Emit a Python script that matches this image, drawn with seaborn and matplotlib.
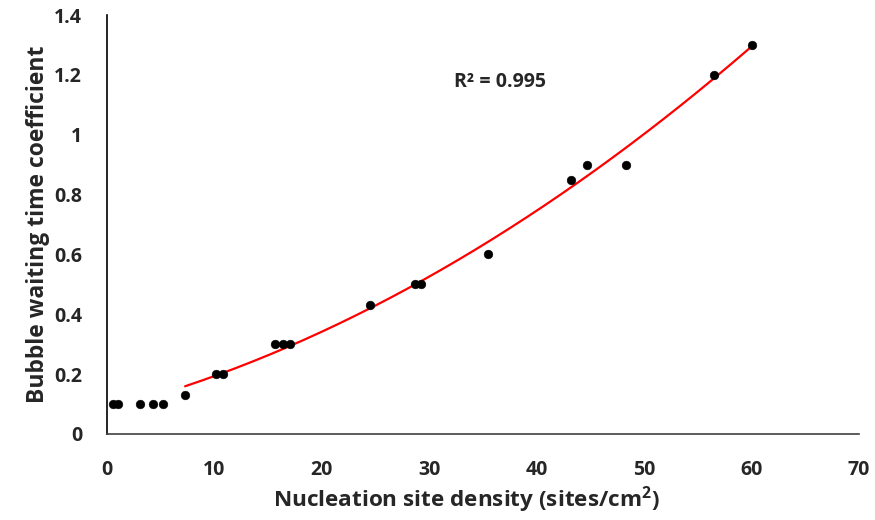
import numpy as np
import pandas as pd
import matplotlib
matplotlib.use("Agg")
import matplotlib.pyplot as plt
import seaborn as sns

# Measured nucleation site density (sites/cm^2) and bubble waiting time coefficient
site_density = [0.6, 1.05, 3.1, 4.3, 5.25, 7.27, 10.1, 10.8, 15.6, 16.4, 17.05,
                24.5, 28.7, 29.2, 35.5, 43.2, 44.7, 48.3, 56.5, 60.0]
waiting_coef = [0.10, 0.10, 0.10, 0.10, 0.10, 0.13, 0.20, 0.20, 0.30, 0.30, 0.30,
                0.43, 0.50, 0.50, 0.60, 0.85, 0.90, 0.90, 1.20, 1.30]
fit_start = 7.27          # trend line is fitted from this density onward
r2_label = "R² = 0.995"
x_ticks = [0, 10, 20, 30, 40, 50, 60, 70]
y_ticks = [0, 0.2, 0.4, 0.6, 0.8, 1.0, 1.2, 1.4]

df = pd.DataFrame({"density": site_density, "coef": waiting_coef})

# Second-order polynomial trend line over the upper range
sub = df[df["density"] >= fit_start]
coeffs = np.polyfit(sub["density"], sub["coef"], 2)
xs = np.linspace(fit_start, sub["density"].max(), 200)
fit_df = pd.DataFrame({"density": xs, "coef": np.polyval(coeffs, xs)})

sns.set_style("white")
plt.rcParams["font.family"] = ["Open Sans", "DejaVu Sans"]
plt.rcParams["mathtext.fontset"] = "custom"
plt.rcParams["mathtext.bf"] = "Open Sans:bold"
plt.rcParams["mathtext.rm"] = "Open Sans"

fig = plt.figure(figsize=(8.75, 5.2), dpi=100)
ax = fig.add_axes([0.1223, 0.1654, 0.8594, 0.8056])

sns.lineplot(data=fit_df, x="density", y="coef", ax=ax, color="#ff0000",
             linewidth=1.6, zorder=2)
sns.scatterplot(data=df, x="density", y="coef", ax=ax, color="black",
                s=40, edgecolor="black", linewidth=0.3, zorder=3)

ax.set_xlim(0, 70)
ax.set_ylim(0, 1.4)
ax.set_xticks(x_ticks)
ax.set_yticks(y_ticks)
ax.set_xticklabels([f"{t:g}" for t in x_ticks], fontsize=14, fontweight="bold")
ax.set_yticklabels([f"{t:g}" for t in y_ticks], fontsize=14, fontweight="bold")
ax.set_xticks(np.arange(0, 70.1, 2), minor=True)
ax.set_yticks(np.arange(0, 1.401, 0.04), minor=True)
ax.tick_params(axis="x", which="major", direction="in", length=6, width=1.2,
               color="black", pad=19)
ax.tick_params(axis="y", which="major", direction="in", length=6, width=1.2,
               color="black", pad=18)
ax.tick_params(axis="both", which="minor", direction="in", length=4.3, width=1.0,
               color="black")

for side in ("top", "right"):
    ax.spines[side].set_visible(False)
ax.spines["left"].set_color("black")
ax.spines["bottom"].set_color("#404040")
ax.spines["left"].set_linewidth(1.2)
ax.spines["bottom"].set_linewidth(1.2)

ax.set_xlabel("Nucleation site density (sites/cm$^\\mathbf{2}$)", fontsize=16.2,
              fontweight="bold")
ax.xaxis.set_label_coords(0.478, -0.12)
ax.set_ylabel("Bubble waiting time coefficient", fontsize=16.5, fontweight="bold",
              labelpad=3)

ax.text(32.3, 1.176, r2_label, fontsize=14, fontweight="bold", va="center", ha="left")

fig.savefig("out.png", dpi=100)
